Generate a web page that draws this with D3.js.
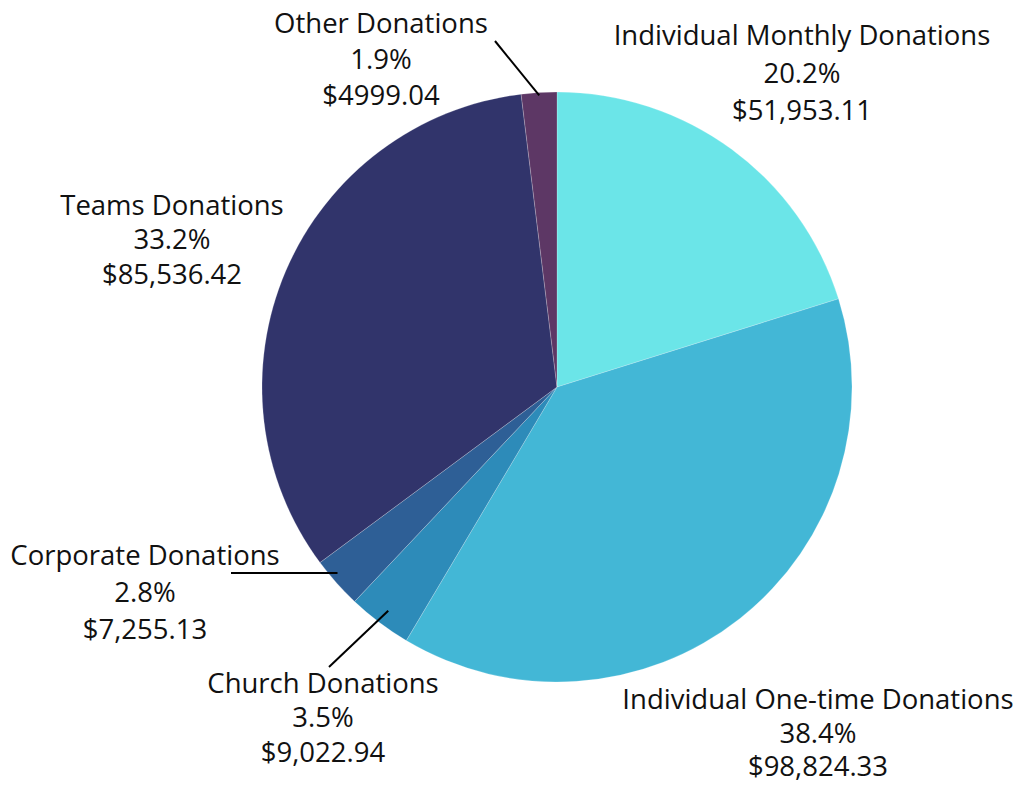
<!DOCTYPE html>
<html>
<head>
<meta charset="utf-8">
<script src="https://cdn.jsdelivr.net/npm/d3@7"></script>
<style>
  html, body { margin: 0; padding: 0; background: #ffffff; }
  svg { display: block; }
  text { font-family: "Open Sans", "Noto Sans", sans-serif; fill: #111111; }
</style>
</head>
<body>
<svg id="chart" width="1021" height="785"></svg>
<script>
// ---- data ----
const categories = [
  "Individual Monthly Donations",
  "Individual One-time Donations",
  "Church Donations",
  "Corporate Donations",
  "Teams Donations",
  "Other Donations"
];
const amounts = [51953.11, 98824.33, 9022.94, 7255.13, 85536.42, 4999.04];
const percentLabels = ["20.2%", "38.4%", "3.5%", "2.8%", "33.2%", "1.9%"];
const amountLabels = ["$51,953.11", "$98,824.33", "$9,022.94", "$7,255.13", "$85,536.42", "$4999.04"];

// ---- styles / layout ----
const colors = ["#6BE5E8", "#43B7D6", "#2D8BB9", "#2E5F96", "#31346B", "#5D3765"];
const cx = 557, cy = 387, radius = 295;
// label anchor (center x) and three baselines; leader: outer end point or null
const labelLayout = [
  { x: 802, ys: [45, 83, 120], leader: null },
  { x: 818, ys: [709, 743, 776], leader: null },
  { x: 323, ys: [693, 727, 762], leader: { r: 0.95, end: [329, 667] } },
  { x: 145, ys: [565, 602, 639], leader: { r: 0.995, end: [231, 573], horiz: true } },
  { x: 172, ys: [215, 249, 284], leader: null },
  { x: 381, ys: [33, 69, 105], leader: { r: 0.99, end: [495, 41] } }
];

const svg = d3.select("#chart");
const g = svg.append("g").attr("transform", `translate(${cx},${cy})`);

const data = categories.map((c, i) => ({ name: c, value: amounts[i], i }));
const pie = d3.pie().value(d => d.value).sort(null);
const arcs = pie(data);
const arc = d3.arc().innerRadius(0).outerRadius(radius);

g.selectAll("path.slice")
  .data(arcs)
  .enter().append("path")
  .attr("class", "slice")
  .attr("d", arc)
  .attr("fill", d => colors[d.data.i])
  .attr("stroke", "rgba(255,255,255,0.35)")
  .attr("stroke-width", 0.6);

// leader lines
arcs.forEach(a => {
  const L = labelLayout[a.data.i].leader;
  if (!L) return;
  const mid = (a.startAngle + a.endAngle) / 2;
  const r = radius * L.r;
  let x1 = cx + r * Math.sin(mid);
  let y1 = cy - r * Math.cos(mid);
  let x2 = L.end[0], y2 = L.end[1];
  if (L.horiz) { y1 = y2; }
  svg.append("line")
    .attr("x1", x1).attr("y1", y1)
    .attr("x2", x2).attr("y2", y2)
    .attr("stroke", "#000")
    .attr("stroke-width", 2);
});

// labels
arcs.forEach(a => {
  const i = a.data.i;
  const lay = labelLayout[i];
  const lines = [categories[i], percentLabels[i], amountLabels[i]];
  const t = svg.append("text")
    .attr("text-anchor", "middle")
    .attr("font-size", 27.5);
  lines.forEach((s, k) => {
    t.append("tspan").attr("x", lay.x).attr("y", lay.ys[k]).text(s);
  });
});
</script>
</body>
</html>
